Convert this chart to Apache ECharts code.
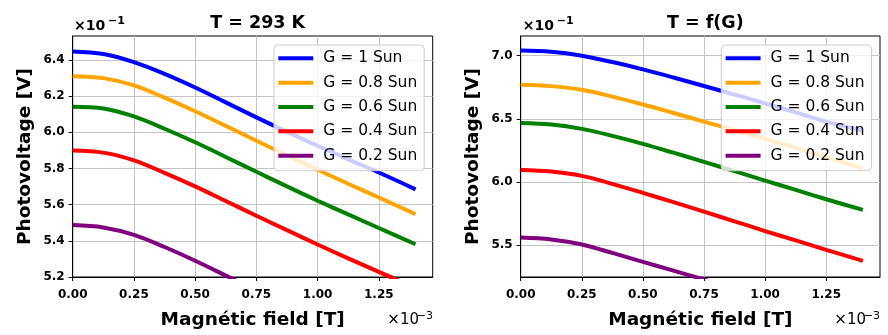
<!DOCTYPE html>
<html>
<head>
<meta charset="utf-8">
<script src="https://cdn.jsdelivr.net/npm/echarts@6/dist/echarts.min.js"></script>
<style>
  html, body { margin: 0; padding: 0; background: #fff; }
  #main { width: 888px; height: 335px; }
</style>
</head>
<body>
<div id="main"></div>
<script>
// magnetic field, in units of 1e-3 T
const fieldValues = [0, 0.125, 0.25, 0.375, 0.5, 0.625, 0.75, 0.875, 1.0, 1.125, 1.25, 1.4];
const seriesNames = ['G = 1 Sun', 'G = 0.8 Sun', 'G = 0.6 Sun', 'G = 0.4 Sun', 'G = 0.2 Sun'];
const xTickValues = [0, 0.25, 0.5, 0.75, 1.0, 1.25];

// photovoltage, in units of 1e-1 V : T = 293 K
const fixedT_1sun = [6.447, 6.433, 6.388, 6.323, 6.248, 6.166, 6.083, 6.003, 5.926, 5.851, 5.778, 5.685];
const fixedT_08sun = [6.311, 6.300, 6.260, 6.192, 6.117, 6.036, 5.954, 5.873, 5.793, 5.716, 5.640, 5.548];
const fixedT_06sun = [6.142, 6.132, 6.088, 6.020, 5.945, 5.864, 5.782, 5.701, 5.622, 5.546, 5.471, 5.381];
const fixedT_04sun = [5.900, 5.888, 5.845, 5.776, 5.701, 5.620, 5.539, 5.459, 5.380, 5.303, 5.228, 5.140];
const fixedT_02sun = [5.487, 5.474, 5.433, 5.366, 5.290, 5.208, 5.125];
const fixedTTicks = [5.2, 5.4, 5.6, 5.8, 6.0, 6.2, 6.4];

// photovoltage, in units of 1e-1 V : T = f(G)
const varT_1sun = [7.039, 7.029, 6.998, 6.948, 6.890, 6.826, 6.759, 6.691, 6.622, 6.551, 6.476, 6.407];
const varT_08sun = [6.769, 6.758, 6.729, 6.675, 6.613, 6.546, 6.478, 6.410, 6.341, 6.270, 6.196, 6.108];
const varT_06sun = [6.466, 6.454, 6.420, 6.365, 6.302, 6.232, 6.160, 6.086, 6.012, 5.938, 5.864, 5.780];
const varT_04sun = [6.095, 6.083, 6.049, 5.986, 5.915, 5.841, 5.766, 5.690, 5.613, 5.539, 5.464, 5.378];
const varT_02sun = [5.562, 5.547, 5.507, 5.440, 5.370, 5.300, 5.230, 5.160];
const varTTicks = [5.5, 6.0, 6.5, 7.0];

const colors = ['#0000ff', '#ffa500', '#008000', '#ff0000', '#800080'];
const FONT = '"DejaVu Sans", sans-serif';

let chart = echarts.init(document.getElementById('main'));

// plot boxes (px)
const panels = [
  { left: 72.7, right: 432.7, top: 36, bottom: 280 },
  { left: 520.7, right: 880, top: 36, bottom: 280 }
];

function toPairs(vals) {
  return vals.map((v, i) => [fieldValues[i], v]);
}

function xAxisFor(idx) {
  return {
    type: 'value', gridIndex: idx, min: 0, max: 1.47, interval: 0.25,
    name: 'Magnétic field [T]', nameLocation: 'middle', nameGap: 34,
    nameTextStyle: { fontFamily: FONT, fontWeight: 'bold', fontSize: 18.5, color: '#000' },
    axisLine: { show: true, onZero: false, lineStyle: { color: '#000', width: 1 } },
    axisTick: { show: true, inside: false, length: 4, customValues: xTickValues, lineStyle: { color: '#000' } },
    axisLabel: {
      customValues: xTickValues, margin: 12, color: '#000', fontFamily: FONT, fontWeight: 'bold', fontSize: 12,
      formatter: v => v.toFixed(2)
    },
    splitLine: { show: true, lineStyle: { color: '#c4c4c4', width: 1 } }
  };
}

function yAxisFor(idx, opts, ticks) {
  return Object.assign({
    type: 'value', gridIndex: idx,
    name: 'Photovoltage [V]', nameLocation: 'middle', nameGap: 38,
    nameTextStyle: { fontFamily: FONT, fontWeight: 'bold', fontSize: 18.5, color: '#000' },
    axisLine: { show: true, onZero: false, lineStyle: { color: '#000', width: 1 } },
    axisTick: { show: true, inside: false, length: 4, customValues: ticks, lineStyle: { color: '#000' } },
    axisLabel: {
      customValues: ticks, margin: 8, color: '#000', fontFamily: FONT, fontWeight: 'bold', fontSize: 12,
      formatter: v => v.toFixed(1)
    },
    splitLine: { show: true, lineStyle: { color: '#c4c4c4', width: 1 } }
  }, opts);
}

function legendFor(idx, left) {
  return {
    left: left, top: 45, orient: 'vertical',
    data: seriesNames,
    icon: 'rect', itemWidth: 35, itemHeight: 4, itemGap: 7.35,
    padding: [4.8, 7, 6.5, 4.3],
    backgroundColor: 'rgba(255,255,255,0.8)', borderColor: '#cccccc', borderWidth: 1, borderRadius: 4,
    textStyle: { fontFamily: FONT, fontSize: 15.5, lineHeight: 17, color: '#000', padding: [0, 0, 0, 5] },
    selectedMode: false
  };
}

function makeSeries(idx, lists) {
  return lists.map((vals, i) => ({
    name: seriesNames[i], type: 'line', xAxisIndex: idx, yAxisIndex: idx,
    data: toPairs(vals), smooth: 0.35, symbol: 'none', clip: true,
    lineStyle: { color: colors[i], width: 4 }, itemStyle: { color: colors[i] }
  }));
}

function exponentLabel(x, y, base, sup, align) {
  // "×10" with raised exponent
  if (align === 'right') {
    return [
      { type: 'text', x: x, y: y - 6, style: { text: sup, font: '11px ' + FONT, fill: '#000', textAlign: 'right', textVerticalAlign: 'bottom' } },
      { type: 'text', x: x - 14, y: y, style: { text: base, font: '15px ' + FONT, fill: '#000', textAlign: 'right', textVerticalAlign: 'bottom' } }
    ];
  }
  return [
    { type: 'text', x: x, y: y, style: { text: base, font: 'bold 14px ' + FONT, fill: '#000', textAlign: 'left', textVerticalAlign: 'bottom' } },
    { type: 'text', x: x + 34, y: y - 6, style: { text: sup, font: 'bold 11px ' + FONT, fill: '#000', textAlign: 'left', textVerticalAlign: 'bottom' } }
  ];
}

let option = {
  backgroundColor: '#fff',
  animation: false,
  title: [
    { text: 'T = 293 K', left: 252.7, top: 9, textAlign: 'center',
      textStyle: { fontFamily: FONT, fontWeight: 'bold', fontSize: 17.5, color: '#000' } },
    { text: 'T = f(G)', left: 700.3, top: 9, textAlign: 'center',
      textStyle: { fontFamily: FONT, fontWeight: 'bold', fontSize: 17.5, color: '#000' } }
  ],
  grid: panels.map(p => ({
    left: p.left, top: p.top, width: p.right - p.left, height: p.bottom - p.top,
    show: true, borderColor: '#000', borderWidth: 1, backgroundColor: 'transparent'
  })),
  legend: [legendFor(0, 274), legendFor(1, 721.3)],
  xAxis: [xAxisFor(0), xAxisFor(1)],
  yAxis: [
    yAxisFor(0, { min: 5.2, max: 6.533, interval: 0.2 }, fixedTTicks),
    yAxisFor(1, { min: 5.25, max: 7.154, splitNumber: 4 }, varTTicks)
  ],
  graphic: [].concat(
    exponentLabel(74, 33, '×10', '−1', 'left'),
    exponentLabel(522.7, 33, '×10', '−1', 'left'),
    exponentLabel(433, 328, '×10', '−3', 'right'),
    exponentLabel(880, 328, '×10', '−3', 'right')
  ),
  series: [].concat(
    makeSeries(0, [fixedT_1sun, fixedT_08sun, fixedT_06sun, fixedT_04sun, fixedT_02sun]),
    makeSeries(1, [varT_1sun, varT_08sun, varT_06sun, varT_04sun, varT_02sun])
  )
};

chart.setOption(option);
</script>
</body>
</html>
